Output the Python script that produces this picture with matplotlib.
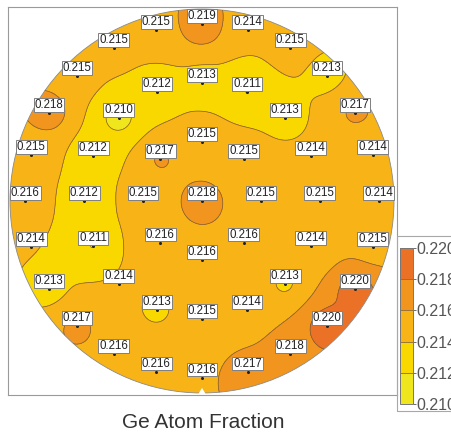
import numpy as np
import matplotlib.pyplot as plt
from matplotlib.colors import ListedColormap, BoundaryNorm
from matplotlib.patches import Circle, Rectangle, Polygon

plt.rcParams['font.family'] = ['Liberation Sans', 'DejaVu Sans']

# measurement pattern: centre + 3 rings (radius in mm on a 300 mm wafer)
wafer_r = 150
ring_radius = [0, 46, 92, 138]
# values per ring, starting at 12 o'clock and going counter-clockwise
center_vals = [0.218]
ring1_vals = [0.215, 0.217, 0.215, 0.216, 0.216, 0.216, 0.215, 0.215]
ring2_vals = [0.213, 0.212, 0.210, 0.212, 0.212, 0.211, 0.214, 0.213,
              0.215, 0.214, 0.213, 0.214, 0.215, 0.214, 0.213, 0.211]
ring3_vals = [0.219, 0.215, 0.215, 0.215, 0.218, 0.215, 0.216, 0.214,
              0.213, 0.217, 0.216, 0.216, 0.216, 0.217, 0.218, 0.220,
              0.220, 0.215, 0.214, 0.214, 0.217, 0.213, 0.215, 0.214]

levels = [0.210, 0.212, 0.214, 0.216, 0.218, 0.220]
band_colors = ['#EFE61E', '#F9D800', '#F8B316', '#F2951F', '#EB7126']

# point coordinates
xs, ys, vs = [], [], []
for r, vals in zip(ring_radius, [center_vals, ring1_vals, ring2_vals, ring3_vals]):
    n = len(vals)
    ang = np.deg2rad(90 + np.arange(n) * 360.0 / n)
    xs += list(r * np.cos(ang))
    ys += list(r * np.sin(ang))
    vs += vals
xs, ys, vs = np.array(xs), np.array(ys), np.array(vs)

# smoothed inverse distance weighted map
g = np.linspace(-wafer_r, wafer_r, 401)
gx, gy = np.meshgrid(g, g)
d2 = (gx[..., None] - xs) ** 2 + (gy[..., None] - ys) ** 2
w = 1.0 / (d2 + 11.0 ** 2) ** 1.15
z = (w * vs).sum(-1) / w.sum(-1)
z = np.clip(z, 0.21001, 0.21999)

fig = plt.figure(figsize=(4.51, 4.34), dpi=100)
W, H = 451.0, 434.0
ax = fig.add_axes([8 / W, 1 - 395 / H, 389 / W, 388 / H])
s = wafer_r / 192.0
ax.set_xlim((8 - 202) * s, (397 - 202) * s)
ax.set_ylim(-(395 - 201) * s, (201 - 7) * s)
ax.set_xticks([])
ax.set_yticks([])
for sp in ax.spines.values():
    sp.set_color('#9a9a9a')
    sp.set_linewidth(0.8)

cmap = ListedColormap(band_colors)
norm = BoundaryNorm(levels, cmap.N)
clip = Circle((0, 0), wafer_r, transform=ax.transData)
cf = ax.contourf(gx, gy, z, levels=levels, cmap=cmap, norm=norm)
cl = ax.contour(gx, gy, z, levels=levels[1:-1], colors='#7a5c2e', linewidths=0.5)
cf.set_clip_path(clip)
cl.set_clip_path(clip)
ax.add_patch(Circle((0, 0), wafer_r, fill=False, ec='#8a8a8a', lw=0.6))
# notch
ax.add_patch(Polygon([(-3, -wafer_r - 1), (3, -wafer_r - 1), (0, -wafer_r + 4)],
                     closed=True, fc='white', ec='none'))

ax.plot(xs, ys, 'o', color='#222222', ms=2.2, mec='none')
for x, y, v in zip(xs, ys, vs):
    ax.annotate(f'{v:.3f}', (x, y), xytext=(0, 1.5), textcoords='offset points',
                ha='center', va='bottom', fontsize=8.3, color='#222222',
                bbox=dict(boxstyle='square,pad=0.08', fc='white', ec='#7f7f7f', lw=0.7))

# colour bar
fig.patches.append(Rectangle((397 / W, 1 - 411 / H), 60 / W, 175 / H,
                             transform=fig.transFigure, fill=False, ec='#a8a8a8', lw=0.8))
cax = fig.add_axes([400 / W, 1 - 404 / H, 13 / W, 156 / H])
cb = fig.colorbar(cf, cax=cax, ticks=levels, format='%.3f', drawedges=True)
cb.outline.set_edgecolor('#777777')
cb.outline.set_linewidth(0.7)
cb.dividers.set_color('#8a6a3a')
cb.dividers.set_linewidth(0.6)
cax.tick_params(labelsize=11.5, colors='#555555', length=2, width=0.6, pad=0.5)

fig.text(203 / W, 1 - 422 / H, 'Ge Atom Fraction', ha='center', va='center',
         fontsize=15, color='#333333')

fig.savefig('out.png', dpi=100)
